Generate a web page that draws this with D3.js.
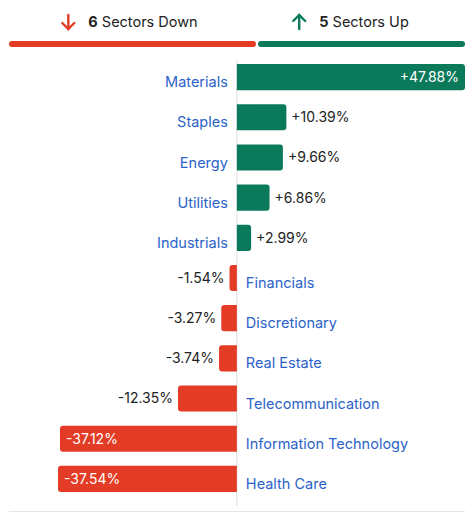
<!DOCTYPE html>
<html><head><meta charset="utf-8">
<script src="https://cdn.jsdelivr.net/npm/d3@7"></script>
<style>body{margin:0;background:#fff;font-family:Inter,"Noto Sans",sans-serif;}</style>
</head><body><svg id="chart" width="475" height="512"></svg>
<script>
var sectors = ["Materials","Staples","Energy","Utilities","Industrials","Financials","Discretionary","Real Estate","Telecommunication","Information Technology","Health Care"];
var changes = [47.88,10.39,9.66,6.86,2.99,-1.54,-3.27,-3.74,-12.35,-37.12,-37.54];

var GREEN = "#0b7a5b", RED = "#e33b25", BLUE = "#2b63c8";
var svg = d3.select("#chart");
var x = d3.scaleLinear().domain([-37.54, 47.88]).range([58, 465]);
var y = d3.scaleBand().domain(sectors).range([58, 498]).paddingInner(0.35).paddingOuter(0.15);
var x0 = x(0);

var down = changes.filter(d => d < 0).length, up = changes.length - down;

// header
function header(cx, n, txt, col, isUp) {
  var g = svg.append("g").attr("transform", "translate(" + cx + ",22)");
  var t = g.append("text").attr("y", 5).attr("font-size", 14.5).attr("fill", "#222");
  t.append("tspan").attr("font-weight", 700).text(n);
  t.append("tspan").text(" " + txt);
  var w = t.node().getComputedTextLength();
  t.attr("x", -w / 2 + 10);
  var ax = -w / 2 - 10;
  var a = g.append("g").attr("transform", "translate(" + ax + ",0)" + (isUp ? "" : " rotate(180)"))
    .attr("stroke", col).attr("stroke-width", 2.4).attr("fill", "none").attr("stroke-linecap", "round");
  a.append("line").attr("x1", 0).attr("y1", -7).attr("x2", 0).attr("y2", 7);
  a.append("path").attr("d", "M-6,-1L0,-7L6,-1");
}
header(133, down, "Sectors Down", RED, false);
header(354, up, "Sectors Up", GREEN, true);
svg.append("rect").attr("x", 9).attr("y", 41).attr("width", 247).attr("height", 6).attr("rx", 3).attr("fill", RED);
svg.append("rect").attr("x", 258).attr("y", 41).attr("width", 207).attr("height", 6).attr("rx", 3).attr("fill", GREEN);

svg.append("line").attr("x1", x0).attr("x2", x0).attr("y1", 60).attr("y2", 506).attr("stroke", "#ddd");
svg.append("line").attr("x1", 9).attr("x2", 465).attr("y1", 511.5).attr("y2", 511.5).attr("stroke", "#e5e5e5");

function barPath(d, i) {
  var y0 = y(sectors[i]), h = y.bandwidth(), r = 3, xe = x(d);
  if (d >= 0) return "M" + x0 + "," + y0 + "H" + (xe - r) + "Q" + xe + "," + y0 + " " + xe + "," + (y0 + r) +
    "V" + (y0 + h - r) + "Q" + xe + "," + (y0 + h) + " " + (xe - r) + "," + (y0 + h) + "H" + x0 + "Z";
  return "M" + x0 + "," + y0 + "H" + (xe + r) + "Q" + xe + "," + y0 + " " + xe + "," + (y0 + r) +
    "V" + (y0 + h - r) + "Q" + xe + "," + (y0 + h) + " " + (xe + r) + "," + (y0 + h) + "H" + x0 + "Z";
}
svg.selectAll(".bar").data(changes).join("path").attr("d", barPath)
  .attr("fill", d => d >= 0 ? GREEN : RED);

var fmt = d => (d >= 0 ? "+" : "") + d.toFixed(2) + "%";
svg.selectAll(".val").data(changes).join("text")
  .attr("font-size", 14).attr("dy", "0.35em")
  .attr("y", (d, i) => y(sectors[i]) + y.bandwidth() / 2)
  .attr("x", d => {
    var inside = Math.abs(d) > 30;
    if (d >= 0) return inside ? x(d) - 6 : x(d) + 5;
    return inside ? x(d) + 6 : x(d) - 5;
  })
  .attr("text-anchor", d => (d >= 0) === (Math.abs(d) > 30) ? "end" : "start")
  .attr("fill", d => Math.abs(d) > 30 ? "#fff" : "#222")
  .text(fmt);

svg.selectAll(".cat").data(changes).join("text")
  .attr("font-size", 14.5).attr("fill", BLUE).attr("dy", "0.35em")
  .attr("y", (d, i) => y(sectors[i]) + y.bandwidth() / 2 + 5)
  .attr("x", d => d >= 0 ? x0 - 9 : x0 + 9)
  .attr("text-anchor", d => d >= 0 ? "end" : "start")
  .text((d, i) => sectors[i]);
</script></body></html>
